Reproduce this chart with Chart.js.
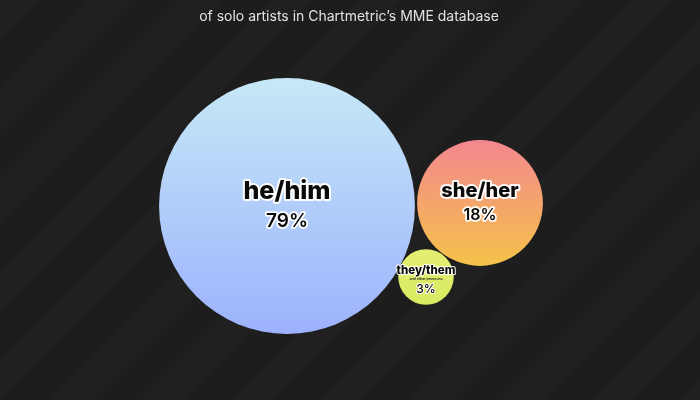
<!DOCTYPE html>
<html>
<head>
<meta charset="utf-8">
<script src="https://cdn.jsdelivr.net/npm/chart.js@4.4.1/dist/chart.umd.min.js"></script>
<style>
  html,body{margin:0;padding:0;background:#1d1d1d;}
  #wrap{width:700px;height:400px;position:relative;}
</style>
</head>
<body>
<div id="wrap"><canvas id="c" width="700" height="400"></canvas></div>
<script>
// ---- data ----
const pronouns = ['he/him', 'she/her', 'they/them'];
const notes = ['', '', 'and other pronouns'];
const shares = [79, 18, 3];           // percent of solo artists
// packed-bubble layout positions (arbitrary layout units)
const layoutX = [28.7, 48.0, 42.6];
const layoutY = [20.6, 20.3, 27.7];
const subtitleText = 'of solo artists in Chartmetric\u2019s MME database';

const gradStops = [
  ['#c6e8f6', '#9db2fd'],
  ['#f2878f', '#f5c249'],
  ['#e4ef72', '#d8ea60']
];

function radiusFor(v) { return 14 * Math.sqrt(v) + 3.5; }

const bgPlugin = {
  id: 'bg',
  beforeDraw(chart) {
    const ctx = chart.ctx, w = chart.width, h = chart.height;
    ctx.save();
    ctx.fillStyle = '#1d1d1d';
    ctx.fillRect(0, 0, w, h);
    ctx.fillStyle = 'rgba(255,255,255,0.014)';
    const period = 90, band = 42;
    for (let s = -h; s < w + h; s += period) {
      ctx.beginPath();
      ctx.moveTo(s, h);
      ctx.lineTo(s + band, h);
      ctx.lineTo(s + band + h, 0);
      ctx.lineTo(s + h, 0);
      ctx.closePath();
      ctx.fill();
    }
    ctx.fillStyle = '#e2e2e2';
    ctx.font = '400 14px Inter, "Noto Sans", sans-serif';
    ctx.textAlign = 'center';
    ctx.textBaseline = 'middle';
    ctx.fillText(subtitleText, 349, 17);
    ctx.restore();
  }
};

function haloText(ctx, text, x, y, font, lw) {
  ctx.font = font;
  ctx.lineJoin = 'round';
  ctx.strokeStyle = 'rgba(255,255,255,0.95)';
  ctx.lineWidth = lw;
  ctx.strokeText(text, x, y);
  ctx.fillStyle = '#0a0a0a';
  ctx.fillText(text, x, y);
}

const labelPlugin = {
  id: 'labels',
  afterDatasetsDraw(chart) {
    const ctx = chart.ctx;
    const meta = chart.getDatasetMeta(0);
    ctx.save();
    ctx.textAlign = 'center';
    ctx.textBaseline = 'middle';
    meta.data.forEach((el, i) => {
      const r = el.options.radius;
      if (i === 2) {
        haloText(ctx, pronouns[i], el.x, el.y - 6, '800 11.5px Inter, sans-serif', 2);
        ctx.font = '600 3.5px Inter, sans-serif';
        ctx.fillStyle = '#222';
        ctx.fillText(notes[i], el.x, el.y + 2);
        haloText(ctx, shares[i] + '%', el.x, el.y + 12, '500 12px Inter, sans-serif', 2);
      } else {
        const big = r > 80;
        const nameSize = big ? 25 : 20;
        const pctSize = big ? 19 : 16;
        const off = big ? 15 : 12;
        haloText(ctx, pronouns[i], el.x, el.y - off, '800 ' + nameSize + 'px Inter, sans-serif', 4);
        haloText(ctx, shares[i] + '%', el.x, el.y + off, '600 ' + pctSize + 'px Inter, sans-serif', 3.5);
      }
    });
    ctx.restore();
  }
};

new Chart(document.getElementById('c'), {
  type: 'bubble',
  data: {
    labels: pronouns,
    datasets: [{
      clip: false,
      data: pronouns.map((p, i) => ({ x: layoutX[i], y: layoutY[i], r: radiusFor(shares[i]) })),
      borderWidth: 0,
      backgroundColor: (c) => {
        const i = c.dataIndex || 0;
        const chart = c.chart;
        const ys = chart.scales && chart.scales.y;
        if (!ys || !chart.chartArea) return gradStops[i][0];
        const cy = ys.getPixelForValue(layoutY[i]);
        const r = radiusFor(shares[i]);
        if (!isFinite(cy)) return gradStops[i][0];
        const g = chart.ctx.createLinearGradient(0, cy - r, 0, cy + r);
        g.addColorStop(0, gradStops[i][0]);
        g.addColorStop(1, gradStops[i][1]);
        return g;
      }
    }]
  },
  options: {
    responsive: false,
    animation: false,
    events: [],
    layout: { padding: 0, autoPadding: false },
    plugins: { legend: { display: false }, tooltip: { enabled: false }, title: { display: false } },
    scales: {
      x: { type: 'linear', min: 0, max: 70, display: false },
      y: { type: 'linear', min: 0, max: 40, reverse: true, display: false }
    }
  },
  plugins: [bgPlugin, labelPlugin]
});
</script>
</body>
</html>
